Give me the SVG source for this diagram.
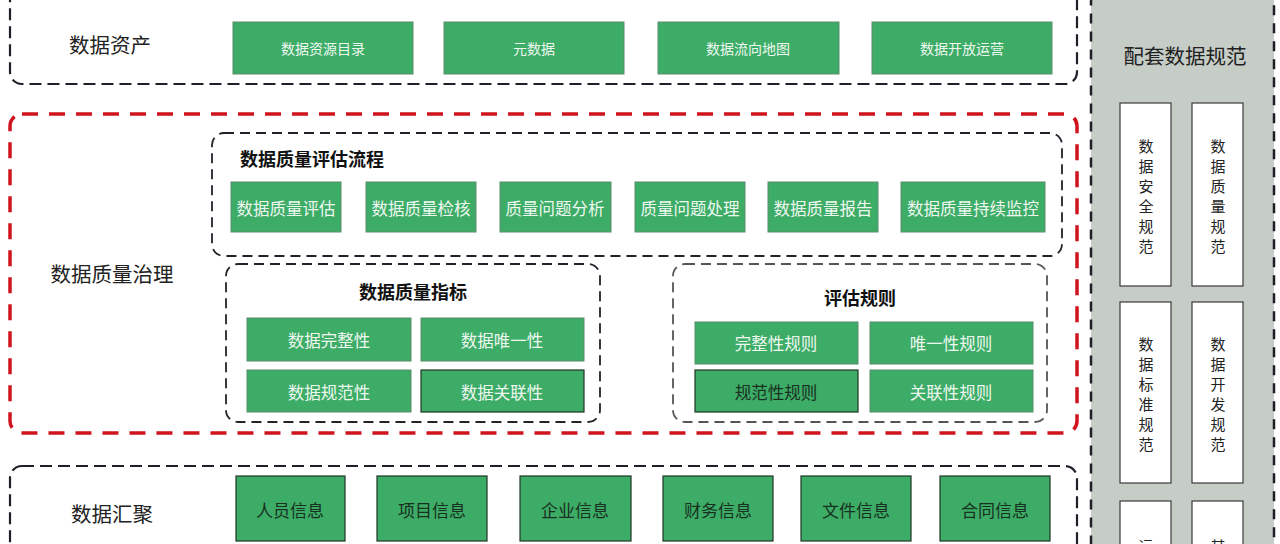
<svg xmlns="http://www.w3.org/2000/svg" width="1280" height="544" viewBox="0 0 1280 544">
<style>
text{font-family:"Noto Sans CJK SC","Noto Sans",sans-serif;dominant-baseline:central;text-anchor:middle}
.outer{fill:none;stroke:#1f1f2a;stroke-width:2.2;stroke-dasharray:12 6}
.red{fill:none;stroke:#d0141e;stroke-width:3.5;stroke-dasharray:16 11}
.inner{fill:none;stroke:#22222a;stroke-width:1.8;stroke-dasharray:10 6}
.innerg{fill:none;stroke:#555;stroke-width:1.8;stroke-dasharray:10 6}
.g{fill:#3dac66;stroke:#5d8c6c;stroke-width:1}
.gd{fill:#3dac66;stroke:#1e3526;stroke-width:1.2}
.wt{fill:#eef8f1;font-size:16.5px}
.wts{fill:#eef8f1;font-size:14px}
.dt{fill:#17301f;font-size:17px}
.lbl{fill:#222;font-size:20.5px}
.ttl{fill:#111;font-size:18px;font-weight:700}
.panel{fill:#c5cdc6;stroke:#1f1f2a;stroke-width:2.5;stroke-dasharray:10 8}
.wb{fill:#fff;stroke:#3a3a3a;stroke-width:1.2}
.vt{fill:#222;font-size:15px}
</style>

<g id="panel-spec">
<rect class="panel" x="1091" y="-12" width="183" height="580" rx="14"/>
<text x="1185" y="55" style="font-size:20.5px;fill:#222">配套数据规范</text>
</g>
<g id="spec-security">
<rect class="wb" x="1120" y="103" width="51" height="183"/>
<text class="vt" x="1146"><tspan x="1146" y="145">数</tspan><tspan x="1146" y="165">据</tspan><tspan x="1146" y="185">安</tspan><tspan x="1146" y="205">全</tspan><tspan x="1146" y="225">规</tspan><tspan x="1146" y="245">范</tspan></text>
</g>
<g id="spec-quality">
<rect class="wb" x="1192" y="103" width="51" height="183"/>
<text class="vt" x="1218"><tspan x="1218" y="145">数</tspan><tspan x="1218" y="165">据</tspan><tspan x="1218" y="185">质</tspan><tspan x="1218" y="205">量</tspan><tspan x="1218" y="225">规</tspan><tspan x="1218" y="245">范</tspan></text>
</g>
<g id="spec-standard">
<rect class="wb" x="1120" y="302" width="51" height="181"/>
<text class="vt" x="1146"><tspan x="1146" y="343">数</tspan><tspan x="1146" y="363">据</tspan><tspan x="1146" y="383">标</tspan><tspan x="1146" y="403">准</tspan><tspan x="1146" y="423">规</tspan><tspan x="1146" y="443">范</tspan></text>
</g>
<g id="spec-dev">
<rect class="wb" x="1192" y="302" width="51" height="181"/>
<text class="vt" x="1218"><tspan x="1218" y="343">数</tspan><tspan x="1218" y="363">据</tspan><tspan x="1218" y="383">开</tspan><tspan x="1218" y="403">发</tspan><tspan x="1218" y="423">规</tspan><tspan x="1218" y="443">范</tspan></text>
</g>
<g id="spec-ops">
<rect class="wb" x="1120" y="501" width="51" height="60"/>
<text class="vt" x="1146" y="545">运</text>
</g>
<g id="spec-other">
<rect class="wb" x="1192" y="501" width="51" height="60"/>
<text class="vt" x="1218" y="545">其</text>
</g>

<g id="layer-assets">
<rect class="outer" x="10" y="-14" width="1067" height="98" rx="12"/>
<text class="lbl" x="110" y="44">数据资产</text>
</g>
<g id="asset-catalog"><rect class="g" x="233" y="22" width="180" height="52"/><text class="wts" x="323" y="48">数据资源目录</text></g>
<g id="asset-meta"><rect class="g" x="444" y="22" width="180" height="52"/><text class="wts" x="534" y="48">元数据</text></g>
<g id="asset-flow"><rect class="g" x="658" y="22" width="181" height="52"/><text class="wts" x="748" y="48">数据流向地图</text></g>
<g id="asset-open"><rect class="g" x="872" y="22" width="180" height="52"/><text class="wts" x="962" y="48">数据开放运营</text></g>

<g id="layer-governance">
<rect class="red" x="10" y="114" width="1067" height="319" rx="12"/>
<text class="lbl" x="112" y="273">数据质量治理</text>
</g>
<g id="process">
<rect class="inner" x="212" y="133" width="850" height="123" rx="12"/>
<text class="ttl" x="312" y="158">数据质量评估流程</text>
</g>
<g id="p1"><rect class="g" x="231" y="182" width="110" height="50"/><text class="wt" x="286" y="208">数据质量评估</text></g>
<g id="p2"><rect class="g" x="366" y="182" width="110" height="50"/><text class="wt" x="421" y="208">数据质量检核</text></g>
<g id="p3"><rect class="g" x="500" y="182" width="111" height="50"/><text class="wt" x="555" y="208">质量问题分析</text></g>
<g id="p4"><rect class="g" x="635" y="182" width="110" height="50"/><text class="wt" x="690" y="208">质量问题处理</text></g>
<g id="p5"><rect class="g" x="768" y="182" width="110" height="50"/><text class="wt" x="823" y="208">数据质量报告</text></g>
<g id="p6"><rect class="g" x="901" y="182" width="144" height="50"/><text class="wt" x="973" y="208">数据质量持续监控</text></g>

<g id="indicators">
<rect class="inner" x="226" y="264" width="374" height="158" rx="12"/>
<text class="ttl" x="413" y="291">数据质量指标</text>
</g>
<g id="i1"><rect class="g" x="247" y="318" width="164" height="43"/><text class="wt" x="329" y="340">数据完整性</text></g>
<g id="i2"><rect class="g" x="421" y="318" width="163" height="43"/><text class="wt" x="502" y="340">数据唯一性</text></g>
<g id="i3"><rect class="g" x="247" y="370" width="164" height="42"/><text class="wt" x="329" y="392">数据规范性</text></g>
<g id="i4"><rect class="gd" x="421" y="370" width="163" height="42"/><text class="wt" x="502" y="392">数据关联性</text></g>

<g id="rules">
<rect class="innerg" x="673" y="264" width="374" height="158" rx="12"/>
<text class="ttl" x="860" y="297">评估规则</text>
</g>
<g id="r1"><rect class="g" x="695" y="322" width="163" height="42"/><text class="wt" x="776" y="343">完整性规则</text></g>
<g id="r2"><rect class="g" x="870" y="322" width="163" height="42"/><text class="wt" x="951" y="343">唯一性规则</text></g>
<g id="r3"><rect class="gd" x="695" y="370" width="163" height="42"/><text class="wt" x="776" y="392" style="fill:#17301f">规范性规则</text></g>
<g id="r4"><rect class="g" x="870" y="370" width="163" height="42"/><text class="wt" x="951" y="392">关联性规则</text></g>

<g id="layer-collect">
<rect class="outer" x="10" y="466" width="1067" height="110" rx="12"/>
<text class="lbl" x="112" y="513">数据汇聚</text>
</g>
<g id="c1"><rect class="gd" x="236" y="476" width="109" height="65"/><text class="dt" x="290" y="509">人员信息</text></g>
<g id="c2"><rect class="gd" x="377" y="476" width="110" height="65"/><text class="dt" x="432" y="509">项目信息</text></g>
<g id="c3"><rect class="gd" x="520" y="476" width="111" height="65"/><text class="dt" x="575" y="509">企业信息</text></g>
<g id="c4"><rect class="gd" x="663" y="476" width="110" height="65"/><text class="dt" x="718" y="509">财务信息</text></g>
<g id="c5"><rect class="gd" x="801" y="476" width="110" height="65"/><text class="dt" x="856" y="509">文件信息</text></g>
<g id="c6"><rect class="gd" x="940" y="476" width="110" height="65"/><text class="dt" x="995" y="509">合同信息</text></g>

<g id="connectors"></g>
</svg>
